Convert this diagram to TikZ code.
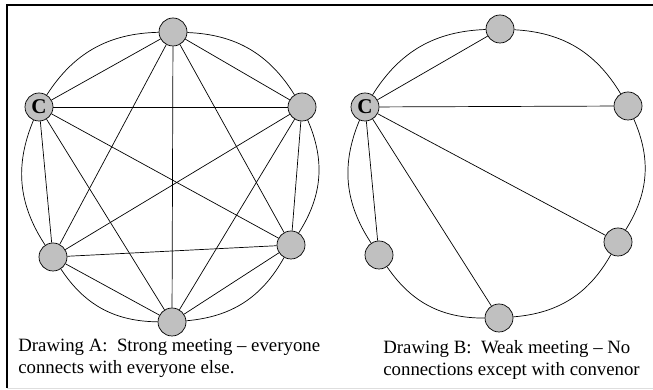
\documentclass[tikz,border=0pt]{standalone}
\usepackage{fontspec}
\setmainfont{Liberation Serif}
\usepackage{color}
\definecolor{mygray}{RGB}{192,192,192}
\definecolor{mylightgray}{RGB}{222,222,222}
\usepackage{tikz}
\usetikzlibrary{calc,positioning}
\tikzstyle{member}=[draw,fill=mygray,circle,minimum size=28pt,inner sep=0pt]
\tikzstyle{convenor}=[member,font=\fontsize{21}{21}\selectfont\bfseries]
\tikzstyle{caption}=[anchor=base west,inner sep=0pt,font=\fontsize{18.8}{22}\selectfont]

\begin{document}
\begin{tikzpicture}[x=1pt,y=1pt,line width=0.7pt]
\useasboundingbox (0,0) rectangle (653,390);
% frame
\draw[line width=1.2pt] (7,2) -- (7,385) -- (653,385);
\draw[mylightgray] (7,2) -- (653,2);

% drawing A
\node [member] (at) at (173,358) {};
\node [member] (aru) at (302,283) {};
\node [member] (arl) at (291,145) {};
\node [member] (ab) at (172,68) {};
\node [member] (all) at (53,133) {};
\node [convenor] (ac) at (39,283) {C};
\foreach \p/\q in {ac/at,ac/aru,ac/arl,ac/ab,ac/all,at/aru,at/arl,at/ab,at/all,
                   aru/arl,aru/ab,aru/all,arl/ab,arl/all,ab/all}
  \draw (\p) -- (\q);
\foreach \p/\q in {at/aru,aru/arl,arl/ab,ab/all,all/ac,ac/at}
  \draw (\p) to[bend left=28] (\q);
\node [caption] (capa1) at (18,38) {Drawing A:\ \ Strong meeting – everyone};
\node [caption] (capa2) at (18,16) {connects with everyone else.};

% drawing B
\node [member] (bt) at (500,361) {};
\node [member] (br) at (628,284) {};
\node [member] (brl) at (618,148) {};
\node [member] (bb) at (499,72) {};
\node [member] (bll) at (379,135) {};
\node [convenor] (bc) at (365,283) {C};
\foreach \q in {bt,br,brl,bb,bll}
  \draw (bc) -- (\q);
\foreach \p/\q in {bt/br,br/brl,brl/bb,bb/bll,bll/bc,bc/bt}
  \draw (\p) to[bend left=28] (\q);
\node [caption] (capb1) at (383,36) {Drawing B:\ \ Weak meeting – No};
\node [caption] (capb2) at (383,14) {connections except with convenor};
\end{tikzpicture}
\end{document}
